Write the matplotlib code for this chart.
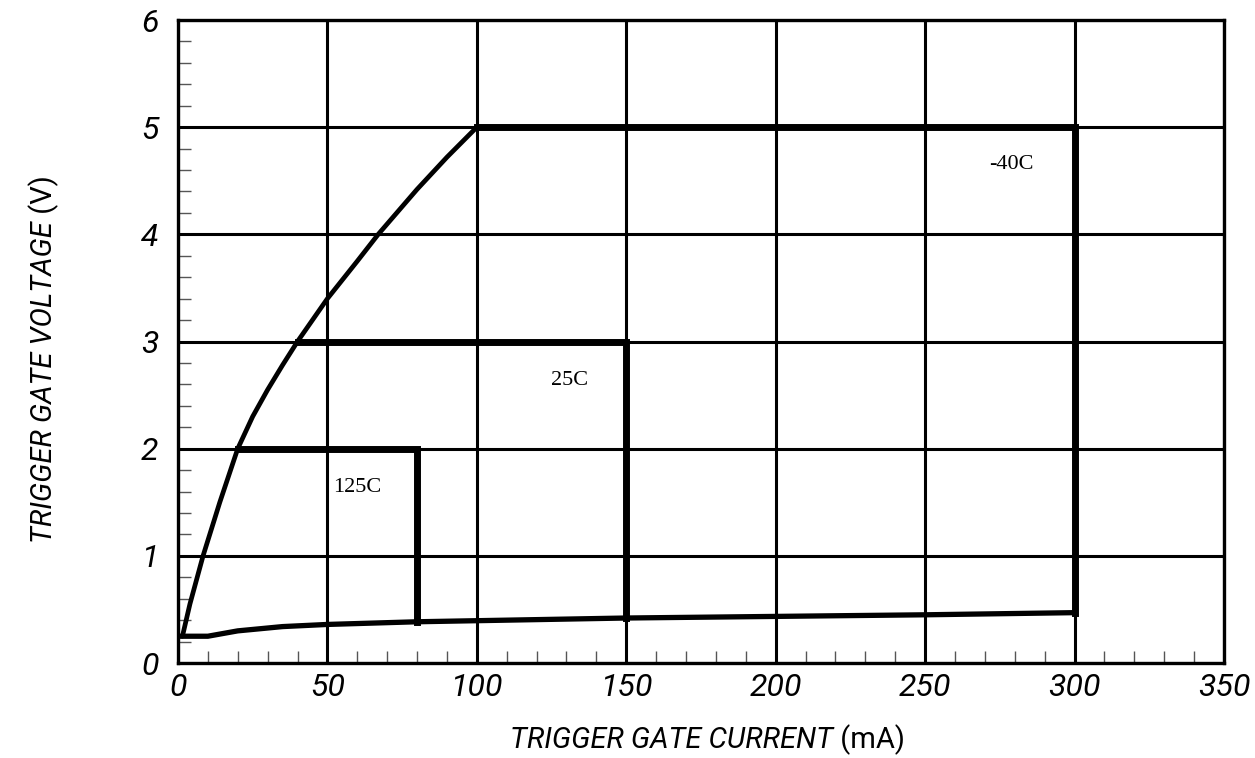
import numpy as np
import matplotlib
matplotlib.use("Agg")
import matplotlib.pyplot as plt
from matplotlib.ticker import MultipleLocator

# upper envelope (gate voltage limit)
env_x = [1.5, 4, 8.4, 14, 20, 25, 30, 35, 40, 50, 60, 67, 80, 90, 100]
env_y = [0.25, 0.55, 1.0, 1.5, 2.0, 2.3, 2.55, 2.78, 3.0, 3.4, 3.75, 4.0, 4.42, 4.72, 5.0]

# lower curve
low_x = [1.5, 10, 20, 35, 50, 80, 100, 150, 200, 250, 300]
low_y = [0.25, 0.25, 0.30, 0.34, 0.36, 0.385, 0.395, 0.42, 0.435, 0.45, 0.47]

# trigger boxes per temperature
temps = ["125C", "25C", "-40C"]
box_i = [80, 150, 300]
box_v = [2.0, 3.0, 5.0]
box_lo = [0.385, 0.42, 0.47]
box_start = [20, 40, 100]
lab_x = [60, 131, 279]
lab_y = [1.64, 2.64, 4.65]

tickfont = 'Roboto'

fig = plt.figure(figsize=(12.55, 7.58), dpi=100)
ax = fig.add_axes([0.1418, 0.1253, 0.8335, 0.8483])

ax.set_xlim(0, 350)
ax.set_ylim(0, 6)
ax.xaxis.set_major_locator(MultipleLocator(50))
ax.yaxis.set_major_locator(MultipleLocator(1))
ax.xaxis.set_minor_locator(MultipleLocator(10))
ax.yaxis.set_minor_locator(MultipleLocator(0.2))
ax.grid(True, which='major', color='black', linewidth=2.2)
ax.set_axisbelow(True)
ax.tick_params(axis='x', which='major', length=0, pad=7)
ax.tick_params(axis='y', which='major', length=0, pad=14)
ax.tick_params(which='minor', direction='in', length=9, width=1, color='#555555')
for s in ax.spines.values():
    s.set_linewidth(2.4)

for lbl in ax.get_xticklabels() + ax.get_yticklabels():
    lbl.set_family(tickfont)
    lbl.set_style('italic')
    lbl.set_fontsize(23)

ax.plot(env_x, env_y, color='black', linewidth=3.4, solid_capstyle='round', zorder=3)
ax.plot(low_x, low_y, color='black', linewidth=3.8, solid_joinstyle='round', zorder=3)

for t, i, v, lo, st, tx, ty in zip(temps, box_i, box_v, box_lo, box_start, lab_x, lab_y):
    ax.plot([st, i, i], [v, v, lo], color='black', linewidth=5, solid_joinstyle='miter', zorder=4)
    ax.text(tx, ty, t, fontsize=16, family='Liberation Serif', ha='center', va='center')

# axis titles: italic part plus upright unit
xl = fig.text(0.406, 0.024, "TRIGGER GATE CURRENT", family=tickfont, style='italic',
              fontsize=21, ha='left', va='center')
ax.annotate(" (mA)", xy=(1, 0.5), xycoords=xl, family=tickfont, fontsize=21,
            ha='left', va='center')
yl = fig.text(0.035, 0.284, "TRIGGER GATE VOLTAGE", family=tickfont, style='italic',
              fontsize=21, ha='center', va='bottom', rotation=90)
ax.annotate(" (V)", xy=(0.5, 1), xycoords=yl, family=tickfont, fontsize=21,
            ha='center', va='bottom', rotation=90)

fig.savefig("out.png", dpi=100)
